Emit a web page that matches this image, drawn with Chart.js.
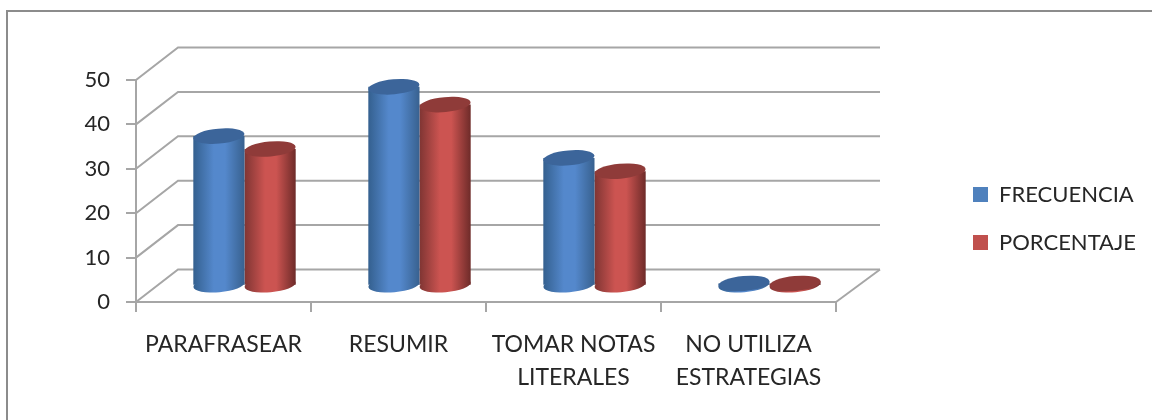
<!DOCTYPE html>
<html><head><meta charset="utf-8">
<style>html,body{margin:0;padding:0;background:#fff}#w{width:1152px;height:420px}</style>
<script src="https://cdn.jsdelivr.net/npm/chart.js@4"></script>
</head><body><div id="w"><canvas id="c" width="1152" height="420"></canvas></div>
<script>
const categories=[["PARAFRASEAR"],["RESUMIR"],["TOMAR NOTAS","LITERALES"],["NO UTILIZA","ESTRATEGIAS"]];
const seriesNames=["FRECUENCIA","PORCENTAJE"];
const frecuencia=[33.7,44.8,28.8,0.5];
const porcentaje=[30.8,40.8,25.8,0.5];
const yTicks=[0,10,20,30,40,50];
const dx=42,dy=-32.5;
const shades=[
 {l:'#34608f',mid:'#5488cc',r:'#38618f',cap:'#3c659a',flat:'#4f81bd'},
 {l:'#7f3533',mid:'#cc5451',r:'#6e2b29',cap:'#8f3b39',flat:'#c0504d'}];
const GRID='#a6a6a6';
const FONT='Lato, "Open Sans", sans-serif';
const RY=7.5,TILT=-0.09;
const depth={
 id:'depth',
 afterLayout(chart){
  const l=chart.legend; l.left=947; l.right=1152; l.top=157.5; l.bottom=300;
 },
 beforeDraw(chart){
  const c=chart.ctx;
  c.save();c.strokeStyle='#8c8c8c';c.lineWidth=2;
  c.beginPath();c.moveTo(7,420);c.lineTo(7,11);c.lineTo(1152,11);c.stroke();
  c.restore();
 },
 beforeDatasetsDraw(chart){
  const c=chart.ctx,a=chart.chartArea,y=chart.scales.y;
  c.save();c.strokeStyle=GRID;c.lineWidth=2;
  yTicks.forEach(v=>{
   const p=y.getPixelForValue(v);
   c.beginPath();c.moveTo(a.left,p);c.lineTo(a.left+dx,p+dy);c.lineTo(a.right+dx+2,p+dy);c.stroke();
  });
  c.beginPath();c.moveTo(a.right,a.bottom);c.lineTo(a.right+dx+2,a.bottom+dy);c.stroke();
  c.restore();
 },
 beforeDatasetDraw(chart,args){
  const c=chart.ctx,s=shades[args.index],meta=args.meta;
  c.save();c.translate(dx/2,dy/2);
  meta.data.forEach(b=>{
   const w=b.width,l=b.x-w/2;
   const g=c.createLinearGradient(l,0,l+w,0);
   g.addColorStop(0,s.l);g.addColorStop(0.4,s.mid);g.addColorStop(0.62,s.mid);g.addColorStop(1,s.r);
   b.options=Object.assign({},b.options,{backgroundColor:g,borderWidth:0});
   c.fillStyle=g;
   c.beginPath();c.ellipse(b.x,b.base,w/2,RY,TILT,0,Math.PI*2);c.fill();
  });
 },
 afterDatasetDraw(chart,args){
  const c=chart.ctx,s=shades[args.index];
  args.meta.data.forEach(b=>{
   c.fillStyle=s.cap;
   c.beginPath();c.ellipse(b.x,b.y,b.width/2,RY,TILT,0,Math.PI*2);c.fill();
  });
  c.restore();
 }
};
new Chart(document.getElementById('c'),{
 type:'bar',
 data:{labels:categories,datasets:[
  {label:seriesNames[0],data:frecuencia,backgroundColor:shades[0].flat,categoryPercentage:0.585,barPercentage:1,clip:false},
  {label:seriesNames[1],data:porcentaje,backgroundColor:shades[1].flat,categoryPercentage:0.585,barPercentage:1,clip:false}]},
 plugins:[depth],
 options:{
  responsive:false,animation:false,
  layout:{padding:{left:0,top:80,right:117,bottom:0}},
  plugins:{
   tooltip:{enabled:false},
   legend:{display:true,position:'right',align:'start',
    labels:{usePointStyle:false,boxWidth:15,boxHeight:15,padding:26,color:'#262626',font:{family:FONT,size:22}}}
  },
  scales:{
   x:{
    afterFit(s){s.height=118},
    grid:{offset:true,drawOnChartArea:false,color:GRID,lineWidth:2,tickLength:10,tickColor:GRID},
    border:{color:GRID,width:2},
    ticks:{color:'#262626',font:{family:FONT,size:23,lineHeight:1.43},maxRotation:0,padding:16,autoSkip:false}
   },
   y:{
    min:0,max:50,
    afterFit(s){s.width=136},
    grid:{drawOnChartArea:false,color:GRID,lineWidth:2,tickLength:10,tickColor:GRID},
    border:{color:GRID,width:2},
    ticks:{stepSize:10,color:'#262626',font:{family:FONT,size:22},padding:16}
   }
  }
 }
});
</script></body></html>
